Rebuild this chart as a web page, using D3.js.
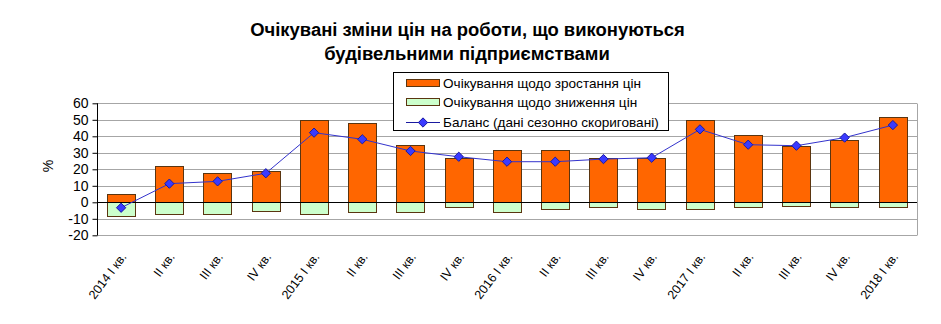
<!DOCTYPE html>
<html><head><meta charset="utf-8">
<script src="https://cdn.jsdelivr.net/npm/d3@7"></script>
<style>body{margin:0;background:#fff} svg{display:block}</style>
</head><body><svg id="c" width="941" height="324"></svg>
<script>
const categories = ["2014 I кв.","II кв.","III кв.","IV кв.","2015 I кв.","II кв.","III кв.","IV кв.","2016 I кв.","II кв.","III кв.","IV кв.","2017 I кв.","II кв.","III кв.","IV кв.","2018 I кв."];
const riseExpect = [5,22,18,19,50,48,35,27,32,32,27,27,50,41,34,38,52];
const fallExpect = [-8,-7,-7,-5,-7,-6,-6,-3,-6,-4,-3,-4,-4,-3,-2,-3,-3];
const balance = [-3.3,11.3,12.7,17.6,42.2,38.2,31.1,27.6,24.6,24.6,26.2,27,44.2,34.9,34.3,39.2,46.8];
const yTicks = [-20,-10,0,10,20,30,40,50,60];
const titleLines = ["Очікувані зміни цін на роботи, що виконуються","будівельними підприємствами"];
const legendLabels = ["Очікування щодо зростання цін","Очікування щодо зниження цін","Баланс (дані сезонно скориговані)"];
const yLabel = "%";

const FONT = "'Liberation Sans', Arial, sans-serif";
const svg = d3.select("#c");
const L = 97, R = 917, T = 103.3, B = 235.3;
const idx = categories.map((d, i) => i);
const x = d3.scaleBand().domain(idx).range([L, R]).paddingInner(0.41).paddingOuter(0.205);
const y = d3.scaleLinear().domain([-20, 60]).range([B, T]);
const sx = v => Math.round(v) + 0.5;

// grid
const g = svg.append("g");
g.selectAll("line.grid").data(yTicks.filter(d => d !== 0)).join("line")
  .attr("x1", L).attr("x2", R).attr("y1", d => sx(y(d))).attr("y2", d => sx(y(d)))
  .attr("stroke", "#a6a6a6").attr("stroke-width", 1);
g.append("line").attr("x1", sx(R)).attr("x2", sx(R)).attr("y1", sx(y(60))).attr("y2", sx(y(-20)))
  .attr("stroke", "#a6a6a6");

// bars
const barStroke = "#5a3510";
const bw = Math.round(x.bandwidth());
g.selectAll("rect.rise").data(riseExpect).join("rect").attr("class", "rise")
  .attr("x", (d, i) => sx(x(i))).attr("width", bw)
  .attr("y", d => sx(y(d))).attr("height", d => Math.round(y(0)) - Math.round(y(d)))
  .attr("fill", "#ff6600").attr("stroke", barStroke).attr("stroke-width", 1);
g.selectAll("rect.fall").data(fallExpect).join("rect").attr("class", "fall")
  .attr("x", (d, i) => sx(x(i))).attr("width", bw)
  .attr("y", d => sx(y(0))).attr("height", d => Math.round(y(d)) - Math.round(y(0)))
  .attr("fill", "#ccffcc").attr("stroke", barStroke).attr("stroke-width", 1);

// zero line
g.append("line").attr("x1", L).attr("x2", R).attr("y1", sx(y(0))).attr("y2", sx(y(0)))
  .attr("stroke", "#000").attr("stroke-width", 1);

// y axis
const yAxis = d3.axisLeft(y).tickValues(yTicks).tickSize(5).tickPadding(4).tickFormat(d => String(d));
const ya = svg.append("g").attr("transform", `translate(${sx(L)},0)`).call(yAxis);
ya.select(".domain").attr("d", `M0,${y(60)}V${y(-20)}`).attr("stroke", "#000");
ya.selectAll(".tick line").attr("stroke", "#000");
ya.selectAll(".tick text").attr("font-family", FONT).attr("font-size", 14).attr("fill", "#000");

// x labels
const xl = svg.append("g");
xl.selectAll("text").data(categories).join("text")
  .attr("transform", (d, i) => `translate(${x(i) + x.bandwidth() / 2 + 6},257) rotate(-53)`)
  .attr("text-anchor", "end").attr("font-family", FONT).attr("font-size", 12.5).attr("fill", "#000")
  .text(d => d);

// balance line
const cx = i => x(i) + x.bandwidth() / 2;
const line = d3.line().x((d, i) => cx(i)).y(d => y(d));
svg.append("path").datum(balance).attr("d", line).attr("fill", "none")
  .attr("stroke", "#3333cc").attr("stroke-width", 1);
const diamond = d3.symbol().type(d3.symbolDiamond2).size(55);
svg.selectAll("path.mk").data(balance).join("path").attr("class", "mk")
  .attr("transform", (d, i) => `translate(${cx(i)},${y(d)})`).attr("d", diamond)
  .attr("fill", "#3a3aff").attr("stroke", "#1a1aa0").attr("stroke-width", 1);

// y label
svg.append("text").attr("transform", "translate(53,166) rotate(-90)").attr("text-anchor", "middle")
  .attr("font-family", FONT).attr("font-size", 14).text(yLabel);

// title
const t1 = svg.append("text").attr("x", 467.5).attr("y", 36).attr("text-anchor", "middle")
  .attr("font-family", FONT).attr("font-weight", "bold").attr("font-size", 17).text(titleLines[0]);
const w1 = t1.node().getComputedTextLength();
const tfs = 17 * 435 / w1;
t1.attr("font-size", tfs);
svg.append("text").attr("x", 467).attr("y", 60).attr("text-anchor", "middle")
  .attr("font-family", FONT).attr("font-weight", "bold").attr("font-size", tfs).text(titleLines[1]);

// legend
const lg = svg.append("g");
lg.append("rect").attr("x", 393.5).attr("y", 72.5).attr("width", 275).attr("height", 58)
  .attr("fill", "#fff").attr("stroke", "#000");
const rowY = [83, 102.5, 122];
lg.append("rect").attr("x", 406.5).attr("y", 79.5).attr("width", 33).attr("height", 7)
  .attr("fill", "#ff6600").attr("stroke", barStroke);
lg.append("rect").attr("x", 406.5).attr("y", 98.5).attr("width", 33).attr("height", 7)
  .attr("fill", "#ccffcc").attr("stroke", barStroke);
lg.append("line").attr("x1", 406).attr("x2", 440).attr("y1", 122.5).attr("y2", 122.5).attr("stroke", "#1a1aa0");
lg.append("path").attr("transform", "translate(423,122.5)").attr("d", diamond)
  .attr("fill", "#3a3aff").attr("stroke", "#1a1aa0");
const lt = lg.selectAll("text").data(legendLabels).join("text")
  .attr("x", 443).attr("y", (d, i) => rowY[i]).attr("dy", "0.35em")
  .attr("font-family", FONT).attr("font-size", 13).text(d => d);
const lw = lt.nodes()[0].getComputedTextLength();
lt.attr("font-size", 13 * 198 / lw);
</script></body></html>
